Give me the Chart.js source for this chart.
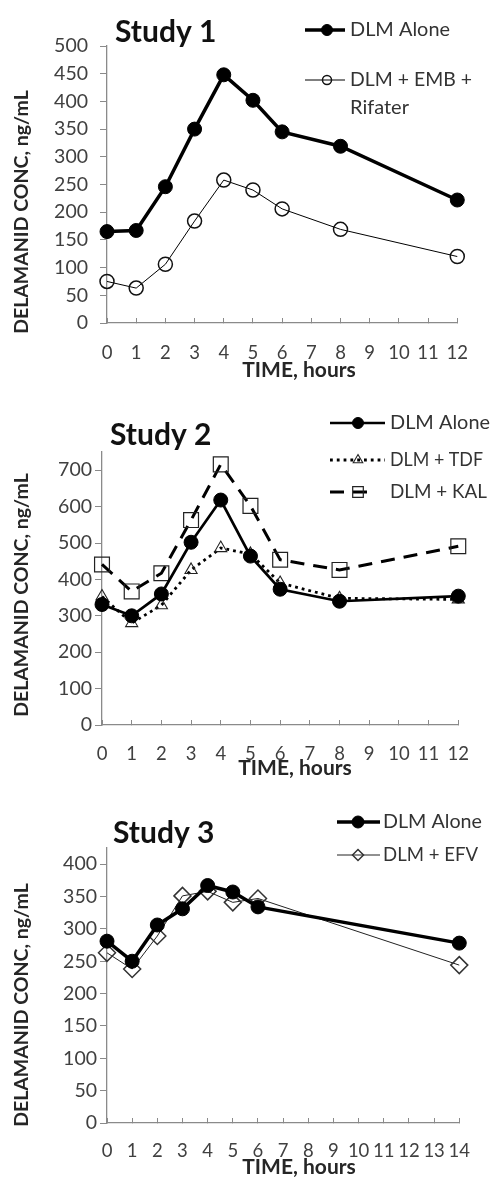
<!DOCTYPE html>
<html><head><meta charset="utf-8">
<script src="https://cdn.jsdelivr.net/npm/chart.js@4.4.1/dist/chart.umd.min.js"></script>
<style>
html,body{margin:0;padding:0;background:#fff;}
#wrap{position:relative;width:492px;height:1177px;overflow:hidden;}
canvas{position:absolute;left:0;}
</style></head><body>
<div id="wrap">
<canvas id="c1" width="492" height="380" style="top:0px"></canvas>
<canvas id="c2" width="492" height="400" style="top:380px"></canvas>
<canvas id="c3" width="492" height="397" style="top:780px"></canvas>
</div>
<script>
// ---- data ----
const study1Hours = [0, 1, 2, 3, 4, 5, 6, 8, 12];
const study1Alone = [165, 167, 246, 350, 448, 402, 345, 319, 222];
const study1EmbRifater = [75, 63, 106, 184, 258, 240, 206, 169, 120];

const study2Hours = [0, 1, 2, 3, 4, 5, 6, 8, 12];
const study2Alone = [331, 300, 360, 502, 618, 464, 373, 340, 354];
const study2Tdf = [353, 280, 329, 426, 486, 470, 390, 348, 345];
const study2Kal = [441, 367, 417, 563, 716, 602, 454, 426, 491];

const study3Hours = [0, 1, 2, 3, 4, 5, 6, 14];
const study3Alone = [281, 250, 306, 331, 367, 357, 334, 278];
const study3Efv = [263, 238, 289, 351, 358, 341, 347, 244];

const panelTitles = ['Study 1', 'Study 2', 'Study 3'];
const yAxisTitle = 'DELAMANID CONC, ng/mL';
const xAxisTitle = 'TIME, hours';

const FONT = 'Lato, "Open Sans", sans-serif';
const AXIS_COLOR = '#8a8a8a';
const TICK_COLOR = '#404040';
const NOFILL = 'rgba(0,0,0,0)';

function pts(xs, ys) { return xs.map((x, i) => ({x: x, y: ys[i]})); }

function makeTextPlugin(cfg) {
  return {
    id: 'panelText',
    afterDraw(chart) {
      const ctx = chart.ctx;
      ctx.save();
      // title
      ctx.fillStyle = '#111';
      ctx.font = 'bold 30px ' + FONT;
      ctx.textAlign = 'left';
      ctx.textBaseline = 'middle';
      ctx.fillText(cfg.title, cfg.titleX, cfg.titleY);
      // y title
      ctx.save();
      ctx.translate(cfg.yTitleX, cfg.yTitleY);
      ctx.rotate(-Math.PI / 2);
      ctx.font = 'bold 19.5px ' + FONT;
      ctx.fillStyle = '#262626';
      ctx.textAlign = 'center';
      ctx.fillText(yAxisTitle, 0, 0);
      ctx.restore();
      // x title
      ctx.font = 'bold 21px ' + FONT;
      ctx.fillStyle = '#262626';
      ctx.textAlign = 'center';
      ctx.fillText(xAxisTitle, cfg.xTitleX, cfg.xTitleY);
      // legend
      cfg.legend.forEach(function (e) {
        const ds = chart.data.datasets[e.index];
        ctx.save();
        ctx.strokeStyle = ds.borderColor;
        ctx.lineWidth = ds.borderWidth;
        ctx.setLineDash(ds.borderDash || []);
        ctx.beginPath();
        ctx.moveTo(e.x1, e.y);
        ctx.lineTo(e.x2, e.y);
        ctx.stroke();
        ctx.setLineDash([]);
        ctx.fillStyle = ds.pointBackgroundColor;
        ctx.strokeStyle = ds.pointBorderColor;
        ctx.lineWidth = ds.pointBorderWidth;
        Chart.helpers.drawPoint(ctx, {pointStyle: ds.pointStyle, radius: e.r, borderWidth: ds.pointBorderWidth, rotation: 0}, e.mx, e.y);
        ctx.restore();
        ctx.font = '20px ' + FONT;
        ctx.fillStyle = '#333';
        ctx.textAlign = 'left';
        ctx.textBaseline = 'middle';
        const lines = e.label.split('\n');
        lines.forEach(function (l, k) { ctx.fillText(l, e.tx, e.y + k * 28, e.w[k]); });
      });
      ctx.restore();
    }
  };
}

function makeChart(id, datasets, opt) {
  const canvas = document.getElementById(id);
  const H = canvas.height;
  return new Chart(canvas, {
    type: 'line',
    data: {datasets: datasets},
    options: {
      responsive: false,
      animation: false,
      devicePixelRatio: 1,
      layout: {padding: {left: 0, right: 492 - opt.right, top: opt.top, bottom: 0}},
      plugins: {legend: {display: false}, title: {display: false}, tooltip: {enabled: false}},
      elements: {line: {tension: 0}},
      scales: {
        x: {
          type: 'linear',
          min: 0, max: opt.xMax,
          afterFit(s) { s.height = H - opt.bottom; },
          ticks: {stepSize: 1, color: TICK_COLOR, font: {family: FONT, size: 18.5}, padding: opt.xPad, maxRotation: 0, autoSkip: false},
          grid: {drawOnChartArea: false, drawTicks: true, tickLength: -5, color: AXIS_COLOR, lineWidth: 1},
          border: {display: true, color: AXIS_COLOR, width: 1.3}
        },
        y: {
          type: 'linear',
          min: 0, max: opt.yMax,
          afterFit(s) { s.width = opt.left; },
          afterBuildTicks(s) { s.ticks = s.ticks.filter(t => t.value % opt.yStep === 0); },
          ticks: {stepSize: opt.yStep, includeBounds: false, color: TICK_COLOR, font: {family: FONT, size: 19.5}, padding: opt.yPad},
          grid: {drawOnChartArea: false, drawTicks: true, tickLength: 7, color: AXIS_COLOR, lineWidth: 1},
          border: {display: true, color: AXIS_COLOR, width: 1.3}
        }
      }
    },
    plugins: [makeTextPlugin(opt.text)]
  });
}

// ---- Study 1 ----
makeChart('c1', [
  {label: 'DLM Alone', data: pts(study1Hours, study1Alone), borderColor: '#000', borderWidth: 3.5,
   pointStyle: 'circle', pointRadius: 7, pointBackgroundColor: '#000', pointBorderColor: '#000', pointBorderWidth: 1, clip: false},
  {label: 'DLM + EMB + Rifater', data: pts(study1Hours, study1EmbRifater), borderColor: '#000', borderWidth: 1,
   pointStyle: 'circle', pointRadius: 7, pointBackgroundColor: NOFILL, pointBorderColor: '#111', pointBorderWidth: 1.5, clip: false}
], {left: 107, right: 480, top: 46, bottom: 323, xMax: 12, yMax: 500, yStep: 50, yPad: 12, xPad: 24,
  text: {title: panelTitles[0], titleX: 115, titleY: 32, yTitleX: 22, yTitleY: 212, xTitleX: 299, xTitleY: 370,
    legend: [
      {index: 0, y: 30, x1: 305, x2: 345, mx: 327, r: 5.5, tx: 350, w: [100], label: 'DLM Alone'},
      {index: 1, y: 80, x1: 305, x2: 345, mx: 327, r: 4.5, tx: 350, w: [122, 62], label: 'DLM + EMB +\nRifater'}
    ]}});

// ---- Study 2 ----
makeChart('c2', [
  {label: 'DLM Alone', data: pts(study2Hours, study2Alone), borderColor: '#000', borderWidth: 2.7,
   pointStyle: 'circle', pointRadius: 7, pointBackgroundColor: '#000', pointBorderColor: '#000', pointBorderWidth: 1, clip: false},
  {label: 'DLM + TDF', data: pts(study2Hours, study2Tdf), borderColor: '#000', borderWidth: 2.8, borderDash: [2.8, 4],
   pointStyle: 'triangle', pointRadius: 7, pointBackgroundColor: NOFILL, pointBorderColor: '#222', pointBorderWidth: 1.1, clip: false},
  {label: 'DLM + KAL', data: pts(study2Hours, study2Kal), borderColor: '#000', borderWidth: 3, borderDash: [14, 9],
   pointStyle: 'rect', pointRadius: 10.5, pointBackgroundColor: NOFILL, pointBorderColor: '#222', pointBorderWidth: 1.2, clip: false}
], {left: 102, right: 480, top: 72, bottom: 345, xMax: 12, yMax: 750, yStep: 100, yPad: 3, xPad: 23,
  text: {title: panelTitles[1], titleX: 110, titleY: 55, yTitleX: 22, yTitleY: 215, xTitleX: 295, xTitleY: 388,
    legend: [
      {index: 0, y: 43, x1: 330, x2: 385, mx: 358, r: 5.5, tx: 390, w: [100], label: 'DLM Alone'},
      {index: 1, y: 80, x1: 330, x2: 385, mx: 358, r: 5.5, tx: 390, w: [93], label: 'DLM + TDF'},
      {index: 2, y: 112, x1: 330, x2: 368, mx: 358, r: 7.5, tx: 390, w: [97], label: 'DLM + KAL'}
    ]}});

// ---- Study 3 ----
makeChart('c3', [
  {label: 'DLM Alone', data: pts(study3Hours, study3Alone), borderColor: '#000', borderWidth: 3.5,
   pointStyle: 'circle', pointRadius: 7, pointBackgroundColor: '#000', pointBorderColor: '#000', pointBorderWidth: 1, clip: false},
  {label: 'DLM + EFV', data: pts(study3Hours, study3Efv), borderColor: '#222', borderWidth: 1,
   pointStyle: 'rectRot', pointRadius: 8.5, pointBackgroundColor: NOFILL, pointBorderColor: '#333', pointBorderWidth: 1.5, clip: false}
], {left: 107, right: 480, top: 68, bottom: 343, xMax: 14, yMax: 425, yStep: 50, yPad: 3, xPad: 22,
  text: {title: panelTitles[2], titleX: 113, titleY: 53, yTitleX: 22, yTitleY: 225, xTitleX: 299, xTitleY: 387,
    legend: [
      {index: 0, y: 42, x1: 337, x2: 380, mx: 358, r: 6, tx: 383, w: [99], label: 'DLM Alone'},
      {index: 1, y: 75, x1: 337, x2: 380, mx: 358, r: 5.5, tx: 383, w: [95], label: 'DLM + EFV'}
    ]}});
</script>
</body></html>
